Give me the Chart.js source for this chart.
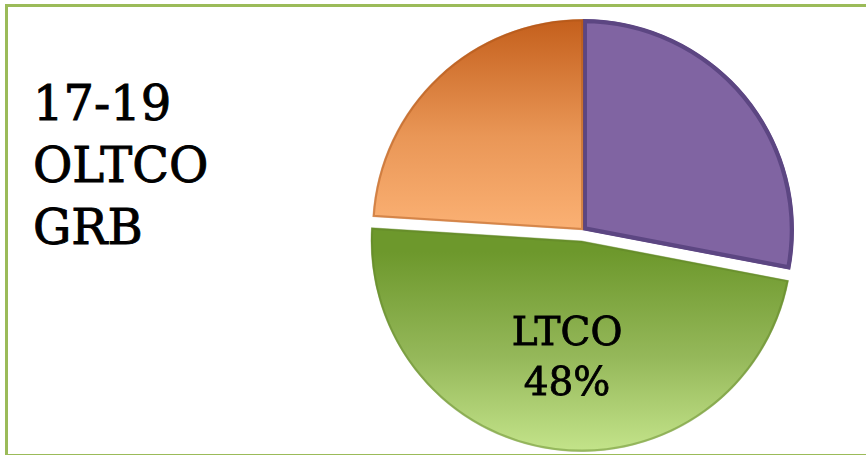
<!DOCTYPE html>
<html>
<head>
<meta charset="utf-8">
<script src="https://cdn.jsdelivr.net/npm/chart.js@4/dist/chart.umd.min.js"></script>
<style>
  html, body { margin: 0; padding: 0; background: #fff; }
  #wrap { position: relative; width: 866px; height: 455px; overflow: hidden; }
  #frame {
    position: absolute; left: 5px; top: 4px; right: -10px; height: 447px;
    border: 3px solid #9bbb59; border-right: none;
  }
  #heading {
    position: absolute; left: 33px; top: 72px;
    font-family: 'DejaVu Serif', serif; font-size: 48px; line-height: 62px; color: #000;
    -webkit-text-stroke: 0.9px #000;
  }
  #myChart { position: absolute; left: 0; top: 0; }
</style>
</head>
<body>
<div id="wrap">
  <div id="frame"></div>
  <div id="heading">17-19<br>OLTCO<br>GRB</div>
  <canvas id="myChart" width="866" height="455"></canvas>
</div>
<script>
// slices run clockwise from 12 o'clock
const labels = ['Category A', 'LTCO', 'Category B'];
const shares = [28, 48, 24];
const showLabel = [false, true, false];
const explode = [0, 11, 0];

const pieRadius = 211;

// vertical gradients for the shaded slices
function sliceFill(ctx) {
  const chart = ctx.chart;
  const area = chart.chartArea;
  if (!area) return '#8064a2';
  const c = chart.ctx;
  const cy = (area.top + area.bottom) / 2;
  if (ctx.dataIndex == 0) return '#8064a2';
  if (ctx.dataIndex == 1) {
    const g = c.createLinearGradient(0, cy + explode[1], 0, cy + pieRadius + explode[1]);
    g.addColorStop(0, '#6d982c');
    g.addColorStop(0.5, '#95b85a');
    g.addColorStop(1, '#c9e990');
    return g;
  }
  const g = c.createLinearGradient(0, cy - pieRadius, 0, cy);
  g.addColorStop(0, '#c45f1c');
  g.addColorStop(0.55, '#e99656');
  g.addColorStop(1, '#fbb174');
  return g;
}

function explodeShift(arc, i) {
  const mid = (arc.startAngle + arc.endAngle) / 2;
  return { dx: Math.cos(mid) * explode[i], dy: Math.sin(mid) * explode[i] };
}

// pull slices out along their mid angle without growing them
const explodeSlices = {
  id: 'explodeSlices',
  beforeDatasetDraw(chart, args) {
    const ctx = chart.ctx;
    args.meta.data.forEach(function (arc, i) {
      const s = explodeShift(arc, i);
      ctx.save();
      ctx.translate(s.dx, s.dy);
      arc.draw(ctx, chart.chartArea);
      ctx.restore();
    });
    return false;
  }
};

// category name + percentage inside the labelled slice
const sliceLabels = {
  id: 'sliceLabels',
  afterDatasetsDraw(chart) {
    const ctx = chart.ctx;
    const meta = chart.getDatasetMeta(0);
    const total = shares.reduce((a, b) => a + b, 0);
    meta.data.forEach(function (arc, i) {
      if (!showLabel[i]) return;
      const s = explodeShift(arc, i);
      const mid = (arc.startAngle + arc.endAngle) / 2;
      const d = arc.outerRadius * 0.55;
      const x = arc.x + s.dx + Math.cos(mid) * d;
      const y = arc.y + s.dy + Math.sin(mid) * d;
      ctx.save();
      ctx.fillStyle = '#000';
      ctx.strokeStyle = '#000';
      ctx.lineWidth = 0.8;
      ctx.font = '39px "DejaVu Serif", serif';
      ctx.textAlign = 'center';
      ctx.textBaseline = 'alphabetic';
      const pct = Math.round(shares[i] / total * 100) + '%';
      ctx.fillText(labels[i], x, y - 11);
      ctx.strokeText(labels[i], x, y - 11);
      ctx.fillText(pct, x, y + 39);
      ctx.strokeText(pct, x, y + 39);
      ctx.restore();
    });
  }
};

const data = {
  labels: labels,
  datasets: [
    {
      data: shares,
      backgroundColor: sliceFill,
      borderColor: ['#5c4682', 'rgba(95,130,40,0.45)', 'rgba(170,85,25,0.45)'],
      borderWidth: [4, 2, 2],
      borderAlign: 'inner',
      hoverOffset: 0,
    },
  ],
};

const config = {
  type: 'pie',
  data: data,
  options: {
    responsive: false,
    animation: false,
    radius: pieRadius,
    layout: { padding: { left: 333, right: 33, top: 10, bottom: 5 } },
    plugins: {
      legend: { display: false },
      tooltip: { enabled: false },
    },
    events: [],
  },
  plugins: [explodeSlices, sliceLabels],
};
const myChart = new Chart(document.getElementById('myChart'), config);
</script>
</body>
</html>
